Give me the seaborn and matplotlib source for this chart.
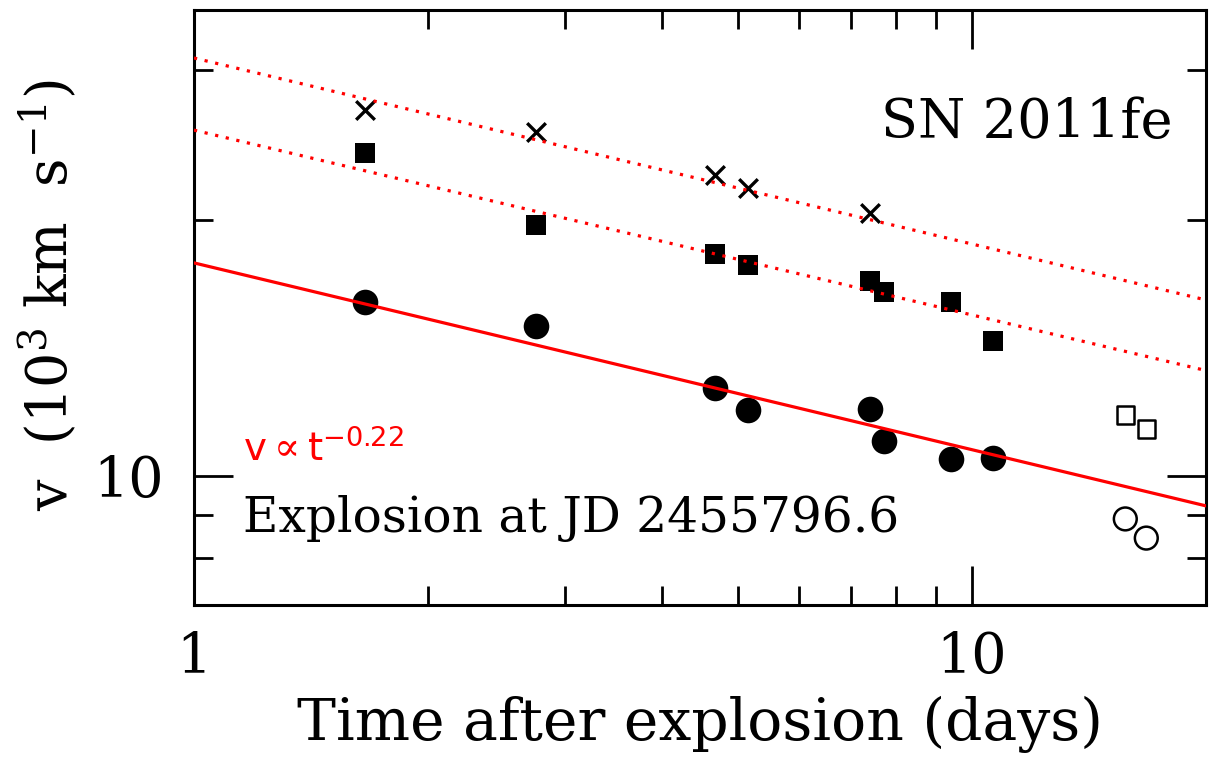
import numpy as np
import pandas as pd
import matplotlib
matplotlib.use("Agg")
import matplotlib.pyplot as plt
import matplotlib.ticker as mticker
import seaborn as sns

# days after explosion
t_early = [1.66, 2.75, 4.68, 5.16, 7.39, 7.70, 9.39, 10.64]
t_cross = [1.66, 2.75, 4.68, 5.16, 7.39]
t_late = [15.75, 16.76]

# velocities (10^3 km/s)
v_circle = [16.0, 15.0, 12.7, 11.95, 11.98, 11.0, 10.47, 10.5]
v_square = [24.0, 19.7, 18.25, 17.7, 16.95, 16.45, 16.0, 14.4]
v_cross = [26.9, 25.4, 22.6, 21.8, 20.4]
v_late_square = [11.8, 11.35]
v_late_circle = [8.9, 8.45]

# power-law fits (v ~ t^-0.22), endpoints read at t=1 and t=20
fit_t = [1, 20]
fit_solid = [17.8, 9.22]
fit_upper = [31.0, 16.1]
fit_lower = [25.5, 13.3]

sns.set_theme(style="ticks")
plt.rcParams["font.family"] = ["DejaVu Serif"]
plt.rcParams["mathtext.fontset"] = "dejavuserif"
plt.rcParams["text.color"] = "black"
plt.rcParams["axes.labelcolor"] = "black"
plt.rcParams["xtick.color"] = "black"
plt.rcParams["ytick.color"] = "black"

fig = plt.figure(figsize=(12.12, 7.67), dpi=100)
ax = fig.add_axes([194 / 1212, 1 - 605 / 767, 1012 / 1212, 595 / 767])
ax.set_xscale("log")
ax.set_yscale("log")

early = pd.DataFrame({"t": t_early, "circle": v_circle, "square": v_square})
cross = pd.DataFrame({"t": t_cross, "v": v_cross})
late = pd.DataFrame({"t": t_late, "square": v_late_square, "circle": v_late_circle})

sns.scatterplot(data=early, x="t", y="circle", marker="o", s=340, color="black",
                linewidth=0, ax=ax, zorder=2)
sns.scatterplot(data=early, x="t", y="square", marker="s", s=190, color="black",
                linewidth=0, ax=ax, zorder=2)
sns.scatterplot(data=cross, x="t", y="v", marker="x", s=180, color="black",
                linewidth=2.4, ax=ax, zorder=2)
sns.scatterplot(data=late, x="t", y="square", marker="s", s=160, facecolor="none",
                edgecolor="black", linewidth=1.8, ax=ax, zorder=2)
sns.scatterplot(data=late, x="t", y="circle", marker="o", s=270, facecolor="none",
                edgecolor="black", linewidth=1.8, ax=ax, zorder=2)

sns.lineplot(x=fit_t, y=fit_solid, color="red", linewidth=2.3, ax=ax, zorder=3)
sns.lineplot(x=fit_t, y=fit_upper, color="red", linewidth=2.3,
             linestyle=(0, (1, 2.4)), ax=ax, zorder=3)
sns.lineplot(x=fit_t, y=fit_lower, color="red", linewidth=2.3,
             linestyle=(0, (1, 2.4)), ax=ax, zorder=3)

ax.set_xlim(1, 20)
ax.set_ylim(7.05, 35.3)

fmt = mticker.FuncFormatter(lambda v, p: f"{v:g}")
for axis in (ax.xaxis, ax.yaxis):
    axis.set_major_locator(mticker.LogLocator(base=10, numticks=10))
    axis.set_minor_locator(mticker.LogLocator(base=10, subs=np.arange(2, 10), numticks=20))
    axis.set_major_formatter(fmt)
    axis.set_minor_formatter(mticker.NullFormatter())

ax.tick_params(which="both", direction="in", top=True, right=True, width=2, color="black")
ax.tick_params(which="major", length=28, labelsize=40)
ax.tick_params(which="minor", length=14)
ax.tick_params(axis="x", which="major", pad=18)
ax.tick_params(axis="y", which="major", pad=22)
for sp in ax.spines.values():
    sp.set_linewidth(2.2)
    sp.set_color("black")

ax.set_xlabel("Time after explosion (days)", fontsize=42)
ax.xaxis.set_label_coords(0.5, -0.152)
ax.set_ylabel(r"v  (10$^3$ km  s$^{-1}$)", fontsize=40)
ax.yaxis.set_label_coords(-0.113, 0.521)

ax.text(0.967, 0.785, "SN 2011fe", transform=ax.transAxes, ha="right",
        va="baseline", fontsize=39)
ax.text(0.048, 0.123, "Explosion at JD 2455796.6", transform=ax.transAxes,
        ha="left", va="baseline", fontsize=35)
ax.text(0.048, 0.244, r"$\mathsf{v}\propto\mathsf{t}^{\mathsf{-0.22}}$",
        transform=ax.transAxes, ha="left", va="baseline", fontsize=28, color="red")

fig.savefig("out.png", dpi=100)
